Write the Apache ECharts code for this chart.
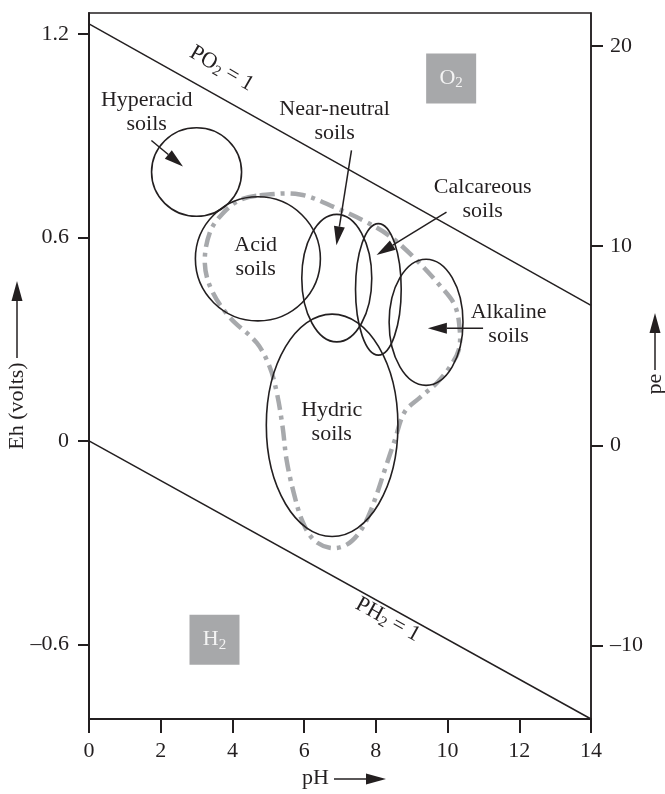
<!DOCTYPE html>
<html>
<head>
<meta charset="utf-8">
<script src="https://cdn.jsdelivr.net/npm/echarts@6/dist/echarts.min.js"></script>
<style>
  html, body { margin: 0; padding: 0; background: #ffffff; }
  #chart { width: 665px; height: 794px; }
</style>
</head>
<body>
<div id="chart"></div>
<script>
const FONT = '"Liberation Serif", "DejaVu Serif", serif';
const INK = '#231f20';
const GREY = '#a7a9ac';
const FS = 22;

// Axis ranges and tick labels
const phRange = [0, 14];
const ehRange = [-0.82, 1.262];
const peRange = [-13.68, 21.65];
const ehTicks = [-0.6, 0, 0.6, 1.2];
const ehTickLabels = ['–0.6', '0', '0.6', '1.2'];
const peTicks = [-10, 0, 10, 20];
const peTickLabels = ['–10', '0', '10', '20'];

// Stability limits of water (pH, Eh)
const o2LinePH = [0, 14];
const o2LineEh = [1.23, 0.40];
const h2LinePH = [0, 14];
const h2LineEh = [0, -0.82];

// Soil domains as ellipses: centre (pH, Eh) and half extents
const soilNames = ['Hyperacid', 'Acid', 'Near-neutral', 'Calcareous', 'Alkaline', 'Hydric'];
const soilCenterPH = [3.00, 4.71, 6.91, 8.07, 9.40, 6.78];
const soilCenterEh = [0.793, 0.537, 0.480, 0.447, 0.350, 0.046];
const soilHalfPH = [1.255, 1.743, 0.976, 0.637, 1.030, 1.835];
const soilHalfEh = [0.1305, 0.183, 0.188, 0.194, 0.186, 0.328];

// Envelope of the common soil range (dashed outline)
const envelopePH = [4.76, 5.88, 6.91, 7.69, 8.39, 9.08, 9.78, 10.20, 10.34, 10.31, 10.06, 9.70, 9.22, 8.80,
  8.53, 8.25, 8.02, 7.77, 7.49, 7.13, 6.71, 6.27, 5.96, 5.71, 5.51, 5.40, 5.24, 5.04, 4.68, 3.92, 3.42,
  3.23, 3.37, 3.73, 4.20];
const envelopeEh = [0.724, 0.727, 0.686, 0.648, 0.604, 0.539, 0.459, 0.400, 0.327, 0.268, 0.218, 0.171,
  0.127, 0.085, 0.003, -0.085, -0.159, -0.227, -0.277, -0.309, -0.315, -0.292, -0.239, -0.153, -0.056,
  0.041, 0.141, 0.218, 0.289, 0.365, 0.445, 0.524, 0.615, 0.671, 0.710];

// Pointer arrows from labels to domains
const arrowFromPH = [1.74, 7.32, 9.97, 10.99];
const arrowFromEh = [0.886, 0.857, 0.675, 0.332];
const arrowToPH = [2.62, 6.90, 8.02, 9.45];
const arrowToEh = [0.809, 0.577, 0.548, 0.332];

// Domain labels
const labelText = ['Hyperacid\nsoils', 'Near-neutral\nsoils', 'Calcareous\nsoils', 'Acid\nsoils', 'Alkaline\nsoils', 'Hydric\nsoils'];
const labelPH = [1.61, 6.85, 10.98, 4.65, 11.70, 6.77];
const labelEh = [0.969, 0.942, 0.713, 0.542, 0.345, 0.056];

// Gas boxes
const gasSymbol = ['O', 'H'];
const gasPH = [10.10, 3.50];
const gasEh = [1.069, -0.586];

// Boundary line captions
const boundaryGas = ['PO', 'PH'];
const boundaryPH = [3.70, 8.33];
const boundaryEh = [1.098, -0.527];
const boundaryAngle = [-30, -29];

const textStyleBase = { fontFamily: FONT, fontSize: FS, color: INK };
function pickLabel(ticks, labels, v) {
  for (let i = 0; i < ticks.length; i++) if (Math.abs(ticks[i] - v) < 1e-6) return labels[i];
  return '';
}

const chart = echarts.init(document.getElementById('chart'), null, { renderer: 'canvas' });

const subRich = {
  n: { fontFamily: FONT, fontSize: FS, color: INK },
  s: { fontFamily: FONT, fontSize: 15, color: INK, padding: [10, 0, 0, 0] }
};
const gasRich = {
  n: { fontFamily: FONT, fontSize: FS, color: '#f4f4f4' },
  s: { fontFamily: FONT, fontSize: 15, color: '#f4f4f4', padding: [10, 0, 0, 0] }
};

function arrowGraphic(p0, p1) {
  const dx = p1[0] - p0[0], dy = p1[1] - p0[1];
  const len = Math.sqrt(dx * dx + dy * dy);
  const ux = dx / len, uy = dy / len;
  const headLen = 19, headHalf = 5.5;
  const bx = p1[0] - ux * headLen, by = p1[1] - uy * headLen;
  return [
    { type: 'line', shape: { x1: p0[0], y1: p0[1], x2: bx, y2: by }, style: { stroke: INK, lineWidth: 1.5 } },
    { type: 'polygon', shape: { points: [[p1[0], p1[1]], [bx - uy * headHalf, by + ux * headHalf], [bx + uy * headHalf, by - ux * headHalf]] },
      style: { fill: INK } }
  ];
}

const option = {
  animation: false,
  backgroundColor: '#ffffff',
  grid: { left: 89, right: 74, top: 13, bottom: 75, show: true, borderColor: INK, borderWidth: 1.5, backgroundColor: 'transparent' },
  xAxis: {
    type: 'value', min: phRange[0], max: phRange[1], interval: 2,
    axisLine: { onZero: false, lineStyle: { color: INK, width: 2 } },
    axisTick: { length: 14, lineStyle: { color: INK, width: 2 } },
    axisLabel: Object.assign({ margin: 21 }, textStyleBase),
    splitLine: { show: false }
  },
  yAxis: [
    {
      type: 'value', min: ehRange[0], max: ehRange[1], position: 'left',
      axisLine: { show: true, onZero: false, lineStyle: { color: INK, width: 2 } },
      axisTick: { show: true, length: 11, customValues: ehTicks, lineStyle: { color: INK, width: 2 } },
      axisLabel: Object.assign({ margin: 20, customValues: ehTicks, formatter: v => pickLabel(ehTicks, ehTickLabels, v) }, textStyleBase),
      splitLine: { show: false }
    },
    {
      type: 'value', min: peRange[0], max: peRange[1], position: 'right',
      axisLine: { show: true, onZero: false, lineStyle: { color: INK, width: 1.5 } },
      axisTick: { show: true, length: 12, customValues: peTicks, lineStyle: { color: INK, width: 2 } },
      axisLabel: Object.assign({ margin: 19, customValues: peTicks, formatter: v => pickLabel(peTicks, peTickLabels, v) }, textStyleBase),
      splitLine: { show: false }
    }
  ],
  series: [
    {
      type: 'line', name: 'O2 limit', symbol: 'none', silent: true,
      data: o2LinePH.map((x, i) => [x, o2LineEh[i]]),
      lineStyle: { color: INK, width: 1.5 }
    },
    {
      type: 'line', name: 'H2 limit', symbol: 'none', silent: true,
      data: h2LinePH.map((x, i) => [x, h2LineEh[i]]),
      lineStyle: { color: INK, width: 1.5 }
    },
    {
      type: 'custom', name: 'envelope', silent: true, z: 2,
      data: [[envelopePH[0], envelopeEh[0]]],
      renderItem: function (params, api) {
        const pts = envelopePH.map((x, i) => api.coord([x, envelopeEh[i]]));
        return {
          type: 'polygon', shape: { points: pts, smooth: 0.35 },
          style: { fill: 'none', stroke: GREY, lineWidth: 4.5, lineDash: [15, 6, 4, 6] }
        };
      }
    },
    {
      type: 'custom', name: 'soils', silent: true, z: 3,
      data: soilNames.map((n, i) => [soilCenterPH[i], soilCenterEh[i], soilHalfPH[i], soilHalfEh[i]]),
      renderItem: function (params, api) {
        const c = api.coord([api.value(0), api.value(1)]);
        const s = api.size([api.value(2), api.value(3)]);
        return {
          type: 'ellipse', shape: { cx: c[0], cy: c[1], rx: s[0], ry: s[1] },
          style: { fill: 'none', stroke: INK, lineWidth: 1.6 }
        };
      }
    },
    {
      type: 'custom', name: 'pointers', silent: true, z: 4,
      data: arrowFromPH.map((x, i) => [x, arrowFromEh[i], arrowToPH[i], arrowToEh[i]]),
      renderItem: function (params, api) {
        const p0 = api.coord([api.value(0), api.value(1)]);
        const p1 = api.coord([api.value(2), api.value(3)]);
        return { type: 'group', children: arrowGraphic(p0, p1) };
      }
    },
    {
      type: 'scatter', name: 'labels', symbolSize: 0, silent: true, z: 5,
      itemStyle: { opacity: 1 },
      data: labelText.map((t, i) => ({ value: [labelPH[i], labelEh[i]], text: t })),
      label: {
        show: true, position: 'inside', fontFamily: FONT, fontSize: FS, color: INK, lineHeight: 24, align: 'center',
        formatter: p => p.data.text
      }
    },
    {
      type: 'scatter', name: 'gases', symbol: 'rect', symbolSize: 50, silent: true, z: 5,
      itemStyle: { color: '#a7a8aa', opacity: 1 },
      data: gasSymbol.map((g, i) => ({ value: [gasPH[i], gasEh[i]], gas: g })),
      label: { show: true, position: 'inside', rich: gasRich, formatter: p => '{n|' + p.data.gas + '}{s|2}' }
    },
    {
      type: 'scatter', name: 'boundary captions', symbolSize: 0, silent: true, z: 5,
      itemStyle: { opacity: 1 },
      data: boundaryGas.map((g, i) => ({
        value: [boundaryPH[i], boundaryEh[i]], gas: g,
        label: { rotate: boundaryAngle[i] }
      })),
      label: { show: true, position: 'inside', rich: subRich, formatter: p => '{n|' + p.data.gas + '}{s|2}{n| = 1}' }
    }
  ],
  graphic: [
    // x axis title with arrow
    { type: 'text', left: 302, top: 767, style: { text: 'pH', fontFamily: FONT, fontSize: FS, fill: INK } },
    { type: 'line', shape: { x1: 334, y1: 779, x2: 368, y2: 779 }, style: { stroke: INK, lineWidth: 1.5 } },
    { type: 'polygon', shape: { points: [[386, 779], [366, 773.5], [366, 784.5]] }, style: { fill: INK } },
    // left axis title with arrow
    { type: 'text', x: 17, y: 406, rotation: Math.PI / 2, style: { text: 'Eh (volts)', fontFamily: FONT, fontSize: FS, fill: INK, align: 'center', verticalAlign: 'middle' } },
    { type: 'line', shape: { x1: 17, y1: 358, x2: 17, y2: 300 }, style: { stroke: INK, lineWidth: 1.5 } },
    { type: 'polygon', shape: { points: [[17, 281], [11.5, 301], [22.5, 301]] }, style: { fill: INK } },
    // right axis title with arrow
    { type: 'text', x: 655, y: 384, rotation: Math.PI / 2, style: { text: 'pe', fontFamily: FONT, fontSize: FS, fill: INK, align: 'center', verticalAlign: 'middle' } },
    { type: 'line', shape: { x1: 655, y1: 370, x2: 655, y2: 332 }, style: { stroke: INK, lineWidth: 1.5 } },
    { type: 'polygon', shape: { points: [[655, 313], [649.5, 333], [660.5, 333]] }, style: { fill: INK } }
  ]
};

chart.setOption(option);
</script>
</body>
</html>
